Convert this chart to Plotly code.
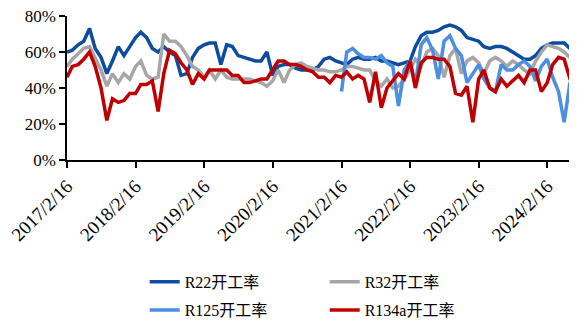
import plotly.graph_objects as go

start_year, start_month, n_points = 2017, 2, 91
dates = []
for k in range(n_points):
    m = start_month - 1 + k
    dates.append(f"{start_year + m // 12}-{m % 12 + 1:02d}-16")

r22 = [60, 61, 64, 66, 73, 62, 57, 48, 55, 63, 58, 63, 68, 71, 68, 62, 60, 63, 60, 58,
       47, 48, 57, 62, 64, 65, 65, 53, 64, 63, 58, 57, 56, 55, 55, 60, 47, 52, 53, 53,
       51, 50, 50, 50, 52, 56, 57, 55, 54, 53, 56, 57, 56, 56, 57, 55, 55, 54, 53, 54,
       55, 63, 69, 71, 71, 72, 74, 75, 74, 72, 68, 67, 66, 63, 62, 63, 63, 62, 60, 58,
       56, 56, 58, 62, 64, 65, 65, 65, 62, 61, 59]
r32 = [52, 56, 59, 62, 63, 57, 50, 41, 48, 43, 48, 45, 52, 55, 47, 45, 46, 70, 66, 66,
       63, 58, 52, 50, 46, 50, 45, 50, 46, 45, 45, 45, 45, 44, 43, 41, 44, 50, 43, 50,
       53, 54, 52, 51, 50, 50, 49, 49, 50, 52, 52, 51, 50, 50, 44, 41, 45, 40, 41, 45,
       50, 56, 52, 60, 62, 58, 46, 58, 62, 48, 55, 57, 54, 48, 55, 57, 55, 52, 55, 53,
       50, 48, 55, 60, 64, 63, 62, 60, 57, 54, 53]
r125 = [None] * 48 + [38, 60, 62, 59, 57, 57, 56, 58, 54, 52, 30, 50,
        55, 42, 64, 68, 61, 45, 66, 69, 62, 58, 43, 48, 53, 45, 40, 38, 53, 50, 50, 53,
        55, 52, 44, 52, 56, 46, 38, 21, 43, 40, 32]
r134a = [46, 52, 53, 56, 60, 52, 40, 22, 34, 32, 33, 37, 37, 42, 42, 44, 27, 48, 61, 59,
         54, 50, 42, 48, 45, 50, 50, 50, 50, 47, 47, 43, 43, 44, 45, 45, 50, 55, 55, 53,
         53, 52, 50, 49, 46, 46, 43, 47, 46, 49, 45, 47, 45, 32, 49, 29, 40, 44, 48, 45,
         55, 40, 54, 57, 57, 56, 56, 52, 37, 36, 41, 21, 45, 50, 40, 38, 45, 41, 44, 47,
         43, 50, 50, 38, 43, 53, 57, 56, 45, 38, 50]

series = [
    ("R22开工率", r22, "#0D4C9E", "legend"),
    ("R32开工率", r32, "#A6A6A6", "legend"),
    ("R125开工率", r125, "#4A8FE0", "legend2"),
    ("R134a开工率", r134a, "#C00000", "legend2"),
]

tick_dates = [f"{y}-02-16" for y in range(2017, 2025)]
tick_text = [f"{y}/2/16" for y in range(2017, 2025)]
y_ticks = [0, 20, 40, 60, 80]

font_family = "Liberation Serif, Noto Sans CJK SC, serif"

fig = go.Figure()
for name, vals, color, lg in series:
    fig.add_trace(go.Scatter(
        x=dates, y=vals, name=name, mode="lines", legend=lg,
        line=dict(color=color, width=3.5), connectgaps=False,
    ))

legend_common = dict(
    orientation="h", x=0.15, xref="paper", yref="container",
    xanchor="left", yanchor="top",
    entrywidth=135, entrywidthmode="pixels",
    font=dict(family=font_family, size=16, color="black"),
    tracegroupgap=0, itemwidth=30, bgcolor="rgba(0,0,0,0)",
)

fig.update_layout(
    width=577, height=320,
    margin=dict(l=59, r=0, t=8, b=168, autoexpand=False),
    paper_bgcolor="white", plot_bgcolor="white",
    font=dict(family=font_family, size=15, color="black"),
    showlegend=True,
    legend=dict(y=0.197, **legend_common),
    legend2=dict(y=0.109, **legend_common),
)
fig.update_xaxes(
    type="date", range=["2017-02-16", "2024-09-04"],
    tickvals=tick_dates, ticktext=tick_text, tickangle=-45,
    showline=True, linecolor="black", linewidth=1.5,
    ticks="outside", ticklen=6, tickcolor="black", tickwidth=1.5,
    showgrid=False, zeroline=False, automargin=False,
    ticklabeloverflow="allow",
    tickfont=dict(family=font_family, size=19, color="black"),
)
fig.update_yaxes(
    range=[0, 80], tickvals=y_ticks, ticktext=[f"{v}%" for v in y_ticks],
    showline=True, linecolor="black", linewidth=1.5,
    ticks="outside", ticklen=6, tickcolor="black", tickwidth=1.5,
    showgrid=False, zeroline=False, automargin=False,
    ticklabeloverflow="allow",
    tickfont=dict(family=font_family, size=17, color="black"),
)

fig.write_html("out.html")
